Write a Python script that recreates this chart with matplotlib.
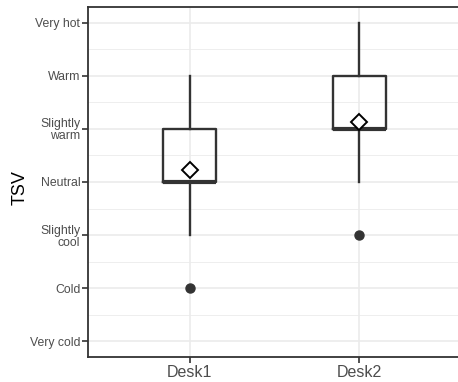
import numpy as np
import matplotlib.pyplot as plt
from matplotlib import font_manager
from matplotlib.ticker import MultipleLocator

plt.rcParams['font.family'] = ['Liberation Sans', 'DejaVu Sans']

# TSV scale: -3 (Very cold) .. 3 (Very hot)
tsv_labels = ['Very cold', 'Cold', 'Slightly\ncool', 'Neutral',
              'Slightly\nwarm', 'Warm', 'Very hot']
tsv_values = [-3, -2, -1, 0, 1, 2, 3]

desks = ['Desk1', 'Desk2']
q1 = [0, 1]
medians = [0, 1]
q3 = [1, 2]
whis_lo = [-1, 0]
whis_hi = [2, 3]
means = [0.23, 1.13]
outliers = [[-2], [-1]]

stats = []
for i, name in enumerate(desks):
    stats.append(dict(label=name, q1=q1[i], med=medians[i], q3=q3[i],
                      whislo=whis_lo[i], whishi=whis_hi[i],
                      mean=means[i], fliers=outliers[i]))

fig = plt.figure(figsize=(4.58, 3.82), dpi=100)
ax = fig.add_axes([88 / 458, 1 - 357 / 382, 373 / 458, 350 / 382])

dark = '#333333'
ax.bxp(stats, positions=[1, 2], widths=0.31, showmeans=True, showcaps=False,
       boxprops=dict(color=dark, linewidth=1.7),
       whiskerprops=dict(color=dark, linewidth=1.7),
       medianprops=dict(color=dark, linewidth=3),
       meanprops=dict(marker='D', markerfacecolor='white', markeredgecolor='black',
                      markersize=8, markeredgewidth=1.4),
       flierprops=dict(marker='o', markerfacecolor=dark, markeredgecolor=dark,
                       markersize=6.5))

ax.set_xlim(0.4, 2.6)
ax.set_ylim(-3.3, 3.3)
ax.set_xticks([1, 2])
ax.set_xticklabels(desks, fontsize=11.5, color='#4D4D4D')
ax.set_yticks(tsv_values)
ax.set_yticklabels(tsv_labels, fontsize=8.8, color='#4D4D4D', linespacing=1.0)
for lbl in ax.get_yticklabels():
    lbl.set_multialignment('right')
ax.yaxis.set_minor_locator(MultipleLocator(0.5))
ax.tick_params(axis='y', which='minor', length=0)
ax.tick_params(which='major', length=4, width=1.2, color=dark, pad=1.5)

ax.grid(True, which='major', color='#EBEBEB', linewidth=1.2)
ax.grid(True, which='minor', axis='y', color='#EBEBEB', linewidth=0.6)
ax.set_axisbelow(True)

for side in ['left', 'bottom', 'top']:
    ax.spines[side].set_color(dark)
    ax.spines[side].set_linewidth(1.3)
ax.spines['right'].set_visible(False)

# condensed face for the axis title if it is installed
names = {f.name for f in font_manager.fontManager.ttflist}
if 'Liberation Sans Narrow' in names:
    ax.set_ylabel('TSV', fontsize=14, color='black', family='Liberation Sans Narrow')
else:
    ax.set_ylabel('TSV', fontsize=13, color='black')
ax.yaxis.set_label_coords(-0.158, 0.485)

fig.savefig('out.png', dpi=100)
